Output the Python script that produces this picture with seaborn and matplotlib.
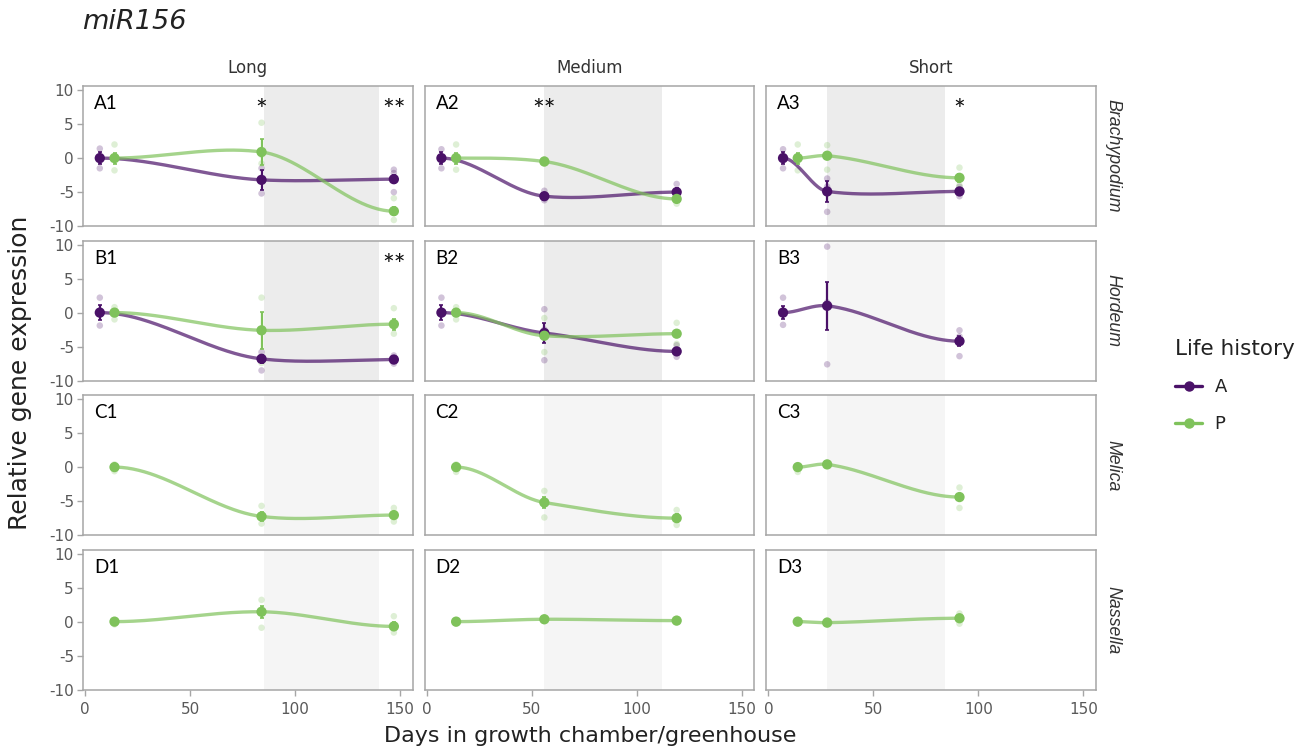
import numpy as np
import pandas as pd
import matplotlib
matplotlib.use("Agg")
import matplotlib.pyplot as plt
import seaborn as sns
from matplotlib.lines import Line2D

# ---------------- data ----------------
species = ["Brachypodium", "Hordeum", "Melica", "Nassella"]
regimes = ["Long", "Medium", "Short"]
row_letters = ["A", "B", "C", "D"]
life_history = ["A", "P"]

days_A = [[7, 84, 147], [7, 56, 119], [7, 28, 91]]
days_P = [[14, 84, 147], [14, 56, 119], [14, 28, 91]]

# greenhouse windows (days) per regime
shade_windows = [(85, 140), (56, 112), (28, 84)]

# group means (rows = Long, Medium, Short)
mean_brachy_A = [[0, -3.2, -3.1], [0, -5.6, -5.0], [0, -4.9, -4.9]]
mean_brachy_P = [[0, 0.9, -7.8], [0, -0.5, -6.0], [0, 0.35, -2.9]]
mean_hordeum_A = [[0, -6.8, -6.9], [0, -3.0, -5.7], [0, 1.0, -4.2]]
mean_hordeum_P = [[0, -2.6, -1.7], [0, -3.4, -3.1], None]
mean_melica_P = [[0, -7.25, -7.05], [0, -5.2, -7.5], [0, 0.4, -4.4]]
mean_nassella_P = [[0, 1.45, -0.7], [0, 0.35, 0.15], [0, -0.15, 0.5]]

# standard errors
se_brachy_A = [[0.9, 1.45, 0.6], [0.9, 0.5, 0.6], [0.9, 1.6, 0.4]]
se_brachy_P = [[0.8, 1.9, 0.6], [0.8, 0.3, 0.4], [0.8, 0.5, 0.6]]
se_hordeum_A = [[1.1, 0.6, 0.3], [1.1, 1.4, 0.5], [0.9, 3.5, 0.7]]
se_hordeum_P = [[0.5, 2.7, 0.8], [0.5, 0.5, 0.5], None]
se_melica_P = [[0.3, 0.6, 0.5], [0.3, 0.8, 0.6], [0.3, 0.2, 0.5]]
se_nassella_P = [[0.2, 0.9, 0.6], [0.2, 0.2, 0.2], [0.2, 0.2, 0.4]]

# replicate values (rows = regimes, then time points)
raw_brachy_A = [[[1.4, 0.3, -1.5], [-1.5, -3.0, -5.2], [-1.7, -2.2, -5.0]],
                [[1.3, 0.2, -1.5], [-4.8, -5.8, -6.2], [-3.8, -5.0, -6.0]],
                [[1.3, 0.2, -1.5], [-3.0, -4.2, -7.9], [-4.2, -5.0, -5.6]]]
raw_brachy_P = [[[2.0, 0.3, -1.8], [5.2, 0.5, -0.8], [-5.9, -8.0, -9.1]],
                [[2.0, 0.3, -1.7], [-0.2, -0.5, -0.8], [-5.5, -6.0, -6.7]],
                [[2.0, 0.2, -1.8], [1.9, 0.5, -1.7], [-1.4, -3.0, -4.0]]]
raw_hordeum_A = [[[2.2, 0.3, -1.9], [-5.8, -6.5, -8.5], [-6.3, -6.9, -7.5]],
                 [[2.2, 0.2, -1.9], [0.5, -2.5, -7.0], [-4.8, -5.8, -6.5]],
                 [[2.2, 0.1, -1.8], [9.7, 1.5, -7.6], [-2.6, -3.5, -6.4]]]
raw_hordeum_P = [[[0.8, 0.1, -1.0], [2.2, -2.7, -7.4], [0.65, -1.7, -3.1]],
                 [[0.8, 0.0, -1.0], [-0.8, -3.5, -5.8], [-1.5, -3.1, -4.6]],
                 None]
raw_melica_P = [[[0.4, 0.0, -0.6], [-5.7, -7.2, -8.3], [-6.0, -7.0, -8.0]],
                [[0.4, 0.0, -0.7], [-3.5, -5.2, -7.4], [-6.3, -7.5, -8.5]],
                [[0.3, 0.0, -0.7], [0.6, 0.4, 0.2], [-3.0, -4.4, -6.0]]]
raw_nassella_P = [[[0.2, 0.0, -0.4], [3.2, 1.4, -0.9], [0.8, -0.7, -1.6]],
                  [[0.2, 0.0, -0.3], [0.6, 0.4, 0.1], [0.4, 0.2, 0.0]],
                  [[0.2, 0.0, -0.3], [0.2, -0.1, -0.3], [1.2, 0.5, -0.3]]]

# significance marks
sig_species = ["Brachypodium", "Brachypodium", "Brachypodium", "Brachypodium", "Hordeum"]
sig_regime = ["Long", "Long", "Medium", "Short", "Long"]
sig_day = [84, 147, 56, 91, 147]
sig_text = ["*", "**", "**", "*", "**"]

x_ticks = [0, 50, 100, 150]
y_ticks = [-10, -5, 0, 5, 10]

means = {("Brachypodium", "A"): mean_brachy_A, ("Brachypodium", "P"): mean_brachy_P,
         ("Hordeum", "A"): mean_hordeum_A, ("Hordeum", "P"): mean_hordeum_P,
         ("Melica", "P"): mean_melica_P, ("Nassella", "P"): mean_nassella_P}
ses = {("Brachypodium", "A"): se_brachy_A, ("Brachypodium", "P"): se_brachy_P,
       ("Hordeum", "A"): se_hordeum_A, ("Hordeum", "P"): se_hordeum_P,
       ("Melica", "P"): se_melica_P, ("Nassella", "P"): se_nassella_P}
raws = {("Brachypodium", "A"): raw_brachy_A, ("Brachypodium", "P"): raw_brachy_P,
        ("Hordeum", "A"): raw_hordeum_A, ("Hordeum", "P"): raw_hordeum_P,
        ("Melica", "P"): raw_melica_P, ("Nassella", "P"): raw_nassella_P}

mean_rows, raw_rows = [], []
for (sp, lh), m in means.items():
    for ri, reg in enumerate(regimes):
        if m[ri] is None:
            continue
        days = days_A[ri] if lh == "A" else days_P[ri]
        for k, d in enumerate(days):
            mean_rows.append(dict(species=sp, regime=reg, lh=lh, day=d,
                                  mean=m[ri][k], se=ses[(sp, lh)][ri][k]))
            for v in raws[(sp, lh)][ri][k]:
                raw_rows.append(dict(species=sp, regime=reg, lh=lh, day=d, value=v))
mean_df = pd.DataFrame(mean_rows)
raw_df = pd.DataFrame(raw_rows)


def smooth_curve(x, y, n=80, tension=0.7):
    x = np.asarray(x, float)
    y = np.asarray(y, float)
    m = np.zeros_like(y)
    for i in range(1, len(x) - 1):
        m[i] = tension * (y[i + 1] - y[i - 1]) / (x[i + 1] - x[i - 1])
    xs, ys = [], []
    t = np.linspace(0, 1, n)
    h00 = 2 * t**3 - 3 * t**2 + 1
    h10 = t**3 - 2 * t**2 + t
    h01 = -2 * t**3 + 3 * t**2
    h11 = t**3 - t**2
    for i in range(len(x) - 1):
        h = x[i + 1] - x[i]
        xs.append(x[i] + t * h)
        ys.append(h00 * y[i] + h10 * h * m[i] + h01 * y[i + 1] + h11 * h * m[i + 1])
    return np.concatenate(xs), np.concatenate(ys)


# ---------------- style ----------------
sns.set_theme(style="white")
plt.rcParams["font.family"] = ["DejaVu Sans"]
plt.rcParams["axes.unicode_minus"] = False
palette = {"A": "#4a1168", "P": "#7fc25b"}
tick_color = "#595959"
border_color = "#a6a6a6"
text_color = "#222222"

fig = plt.figure(figsize=(13.09, 7.53), dpi=100)
gs = fig.add_gridspec(4, 3, left=83 / 1309, right=1096 / 1309,
                      top=1 - 86 / 753, bottom=1 - 690 / 753,
                      wspace=0.036, hspace=0.1)

for r, sp in enumerate(species):
    for c, reg in enumerate(regimes):
        ax = fig.add_subplot(gs[r, c])
        sub_m = mean_df[(mean_df.species == sp) & (mean_df.regime == reg)]
        sub_r = raw_df[(raw_df.species == sp) & (raw_df.regime == reg)]
        ngroups = sub_m.lh.nunique()
        shade = "#ececec" if ngroups > 1 else "#f5f5f5"
        ax.axvspan(*shade_windows[c], color=shade, lw=0, zorder=0)

        sns.scatterplot(data=sub_r, x="day", y="value", hue="lh", palette=palette,
                        s=22, alpha=0.25, linewidth=0, legend=False, ax=ax, zorder=2)
        curves = []
        for lh in life_history:
            g = sub_m[sub_m.lh == lh]
            if len(g) == 0:
                continue
            xs, ys = smooth_curve(g.day.values, g["mean"].values)
            curves.append(pd.DataFrame(dict(x=xs, y=ys, lh=lh)))
        curve_df = pd.concat(curves)
        sns.lineplot(data=curve_df, x="x", y="y", hue="lh", palette=palette,
                     estimator=None, sort=False, lw=2.4, alpha=0.7,
                     legend=False, ax=ax, zorder=3)
        for lh in life_history:
            g = sub_m[sub_m.lh == lh]
            if len(g) == 0:
                continue
            ax.errorbar(g.day, g["mean"], yerr=g.se, fmt="none",
                        ecolor=palette[lh], elinewidth=1.6, capsize=1.5,
                        capthick=1.2, zorder=4)
        sns.scatterplot(data=sub_m, x="day", y="mean", hue="lh", palette=palette,
                        s=55, linewidth=0, legend=False, ax=ax, zorder=5)

        for s_sp, s_reg, s_d, s_t in zip(sig_species, sig_regime, sig_day, sig_text):
            if s_sp == sp and s_reg == reg:
                ax.text(s_d, 5.6, s_t, ha="center", va="baseline", fontsize=20,
                        family=["Lato", "DejaVu Sans"], color="#111111")

        ax.text(0.033, 0.875, f"{row_letters[r]}{c + 1}", transform=ax.transAxes,
                ha="left", va="center", fontsize=13.5, family=["Lato", "DejaVu Sans"],
                color="#000000")

        ax.set_xlim(-1, 156)
        ax.set_ylim(-10.05, 10.6)
        ax.set_xticks(x_ticks)
        ax.set_yticks(y_ticks)
        ax.set_xlabel("")
        ax.set_ylabel("")
        for s in ax.spines.values():
            s.set_color(border_color)
            s.set_linewidth(1.1)
        ax.tick_params(axis="both", colors=border_color, labelcolor=tick_color,
                       labelsize=11, length=4.5, width=1, direction="out")
        ax.tick_params(axis="x", pad=4)
        ax.tick_params(axis="y", pad=2)
        if c == 0:
            ax.tick_params(axis="y", left=True)
        else:
            ax.tick_params(axis="y", left=False, labelleft=False)
        if r == 3:
            ax.tick_params(axis="x", bottom=True)
        else:
            ax.tick_params(axis="x", bottom=False, labelbottom=False)

        if r == 0:
            ax.text(0.5, 1.13, reg, transform=ax.transAxes, ha="center",
                    va="center", fontsize=12, color="#333333")
        if c == 2:
            ax.text(1.05, 0.5, sp, transform=ax.transAxes, ha="center",
                    va="center", rotation=-90, fontsize=12.8, style="italic",
                    color="#333333", family=["Liberation Sans", "DejaVu Sans"])

fig.text(82 / 1309, 1 - 22 / 753, "miR156", style="italic", fontsize=19.5,
         ha="left", va="center", color=text_color)
fig.text(20 / 1309, 1 - 373 / 753, "Relative gene expression", rotation=90,
         ha="center", va="center", fontsize=18, color=text_color)
fig.text(590 / 1309, 1 - 736 / 753, "Days in growth chamber/greenhouse",
         ha="center", va="center", fontsize=16, color=text_color)

handles = [Line2D([0], [0], color=palette[lh], lw=2.4, marker="o", ms=6.5)
           for lh in life_history]
leg = fig.legend(handles, life_history, title="Life history", loc="upper left",
                 bbox_to_anchor=(1166 / 1309, 1 - 330 / 753), frameon=False,
                 fontsize=13, title_fontsize=15.5, handlelength=1.5,
                 handletextpad=0.7, labelspacing=1.05, alignment="left",
                 borderpad=0)
leg.get_title().set_color(text_color)
for t in leg.get_texts():
    t.set_color(text_color)

fig.savefig("out.png", dpi=100, facecolor="white")
